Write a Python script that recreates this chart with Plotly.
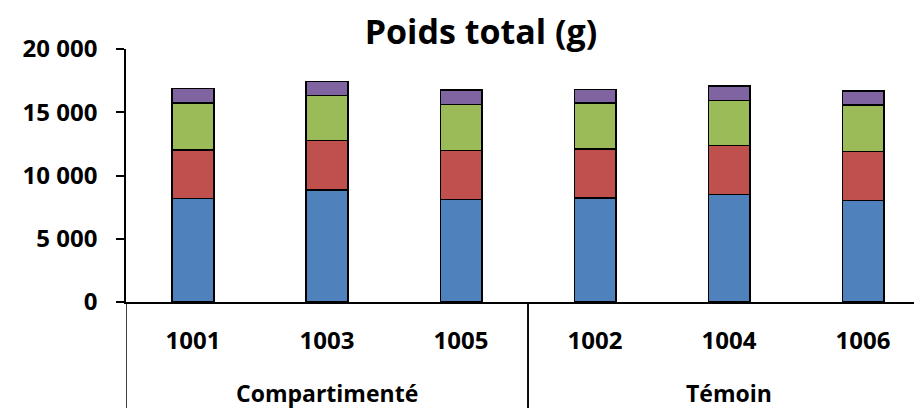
import plotly.graph_objects as go

groups = ["Compartimenté", "Compartimenté", "Compartimenté", "Témoin", "Témoin", "Témoin"]
ids = ["1001", "1003", "1005", "1002", "1004", "1006"]

serie_bleu = [8200, 8850, 8090, 8220, 8480, 8010]
serie_rouge = [3820, 3900, 3900, 3870, 3880, 3900]
serie_verte = [3730, 3560, 3640, 3640, 3580, 3660]
serie_violette = [1140, 1110, 1130, 1080, 1140, 1130]

y_ticks = [0, 5000, 10000, 15000, 20000]

colors = ["#4F81BD", "#C0504D", "#9BBB59", "#8064A2"]
series = [serie_bleu, serie_rouge, serie_verte, serie_violette]

xpos = list(range(len(ids)))

fig = go.Figure()
for vals, col in zip(series, colors):
    fig.add_trace(go.Bar(
        x=xpos, y=vals,
        marker=dict(color=col, line=dict(color="black", width=1.5)),
        showlegend=False,
    ))

font_family = "Open Sans"

# group labels and dividers, derived from the group list
unique_groups = []
for g in groups:
    if g not in unique_groups:
        unique_groups.append(g)
annotations = []
shapes = []
for g in unique_groups:
    idx = [i for i, gg in enumerate(groups) if gg == g]
    annotations.append(dict(
        text="<b>" + g + "</b>", x=(idx[0] + idx[-1]) / 2, xref="x",
        y=-0.36, yref="paper", yanchor="middle", showarrow=False,
        font=dict(family=font_family, size=23, color="black"),
    ))
    for b in (idx[0] - 0.5, idx[-1] + 0.5):
        shapes.append(dict(
            type="line", xref="x", yref="paper", x0=b, x1=b, y0=0, y1=-0.5,
            line=dict(color="black", width=1.5),
        ))

fig.update_layout(
    width=922, height=408,
    barmode="stack", bargap=0.69,
    plot_bgcolor="white", paper_bgcolor="white",
    separators=", ",
    margin=dict(l=118, r=8, t=41, b=114),
    title=dict(text="<b>Poids total (g)</b>", x=0.513, xanchor="center",
               y=0.94, yref="container", yanchor="middle",
               font=dict(family=font_family, size=34, color="black")),
    font=dict(family=font_family, color="black"),
    annotations=annotations,
    shapes=shapes,
)
fig.update_yaxes(
    range=[0, 20000], tickvals=y_ticks, tickformat=",d",
    automargin=False,
    showgrid=False, zeroline=False,
    showline=True, linecolor="black", linewidth=1.5,
    ticks="outside", ticklen=8, tickcolor="black", tickwidth=1.5,
    ticklabelstandoff=14,
    tickfont=dict(family=font_family, size=24, weight="bold", color="black"),
)
fig.update_xaxes(
    range=[-0.5, 5.44], tickvals=xpos, ticktext=ids,
    automargin=False,
    showgrid=False, zeroline=False,
    showline=True, linecolor="black", linewidth=1.5,
    ticks="", ticklabelstandoff=16,
    tickfont=dict(family=font_family, size=24, weight="bold", color="black"),
)

fig.write_html("out.html")
